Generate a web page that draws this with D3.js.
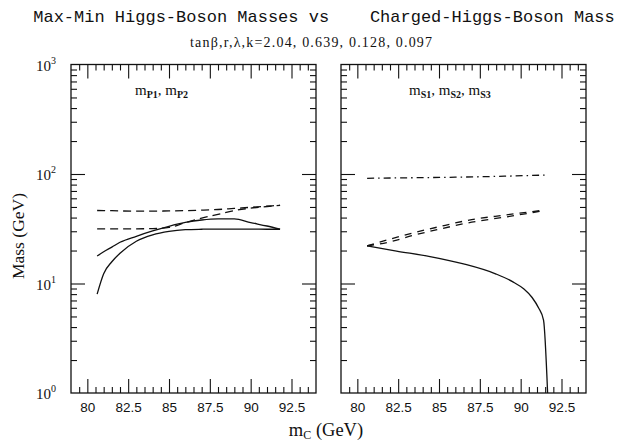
<!DOCTYPE html>
<html>
<head>
<meta charset="utf-8">
<script src="https://cdnjs.cloudflare.com/ajax/libs/d3/7.8.5/d3.min.js"></script>
<style>
  body { margin: 0; background: #fff; }
  svg { display: block; }
</style>
</head>
<body>
<svg id="chart"></svg>
<script>
// canvas
var svg = d3.select("#chart"),
    width = 621,
    height = 441;
svg.attr("width", width).attr("height", height);

// ---- data ----
// left panel: pseudoscalar masses
var mcLeft  = [80.6, 81, 81.5, 82, 83, 84, 85, 86, 87, 88, 89, 90, 91, 91.8];
var mP1Min  = [8.0, 12.3, 15.8, 18.9, 24.3, 27.8, 29.9, 31.0, 31.3, 31.4, 31.4, 31.4, 31.3, 31.3];
var mP1Max  = [17.8, 19.5, 21.5, 23.8, 27.0, 30.2, 33.3, 36.1, 38.0, 38.9, 38.9, 36.0, 33.5, 31.3];
var mP2Min  = [31.5, 31.5, 31.5, 31.5, 31.6, 31.7, 32.5, 36.0, 39.5, 42.8, 46.3, 48.8, 50.5, 51.8];
var mP2Max  = [46.4, 46.3, 46.2, 46.0, 45.8, 45.8, 46.0, 46.3, 46.8, 47.4, 48.5, 49.6, 50.8, 51.8];

// right panel: scalar masses
var mcS1 = [80.6, 82.4, 84.45, 86.5, 88.5, 89.5, 90.2, 90.7, 91.1, 91.4, 91.65];
var mS1  = [22.1, 19.8, 17.6, 15.1, 12.2, 10.4, 8.9, 7.45, 5.97, 4.64, 1.0];
var mcS2 = [80.6, 82, 83.5, 85, 87, 89, 91.3];
var mS2Max = [22.1, 25.4, 29.2, 33.0, 38.3, 42.1, 46.5];
var mS2Min = [22.1, 24.0, 27.7, 31.3, 36.3, 40.3, 46.0];
var mcS3 = [80.6, 83, 86, 89, 91.6];
var mS3  = [91.4, 92.3, 93.5, 95.5, 97.9];

// tick labels
var xTickValues = [80, 82.5, 85, 87.5, 90, 92.5];
var yTickValues = [1, 10, 100, 1000];

// ---- layout ----
var panelW = 245, panelH = 328.5, panelTop = 64.5;
var panelLefts = [71, 341];

var x = d3.scaleLinear().domain([79, 94]).range([0, panelW]);
var y = d3.scaleLog().domain([1, 1000]).range([panelH, 0]);

var line = d3.line()
    .x(function(d) { return x(d[0]); })
    .y(function(d) { return y(d[1]); })
    .curve(d3.curveMonotoneX);

function zip(xs, ys) { return xs.map(function(v, i) { return [v, ys[i]]; }); }

var dashed = "8,5", dashDot = "7,4,1.5,4";

var panels = [
  { label: [["m", "P1"], ["m", "P2"]], labelX: 64,
    series: [
      { pts: zip(mcLeft, mP1Min), dash: null },
      { pts: zip(mcLeft, mP1Max), dash: null },
      { pts: zip(mcLeft, mP2Min), dash: dashed },
      { pts: zip(mcLeft, mP2Max), dash: dashed }
    ] },
  { label: [["m", "S1"], ["m", "S2"], ["m", "S3"]], labelX: 68,
    series: [
      { pts: zip(mcS1, mS1), dash: null },
      { pts: zip(mcS2, mS2Max), dash: "7,6" },
      { pts: zip(mcS2, mS2Min), dash: "7,6" },
      { pts: zip(mcS3, mS3), dash: dashDot }
    ] }
];

// minor ticks
var xMinor = d3.range(79.5, 94, 0.5).filter(function(v) { return Math.abs((v / 2.5) - Math.round(v / 2.5)) > 1e-6; });
var yMinor = [];
[1, 10, 100].forEach(function(dec) { for (var k = 2; k <= 9; k++) yMinor.push(dec * k); });

svg.append("defs").selectAll("clipPath")
  .data(panelLefts).enter()
  .append("clipPath").attr("id", function(d, i) { return "clip" + i; })
  .append("rect").attr("width", panelW).attr("height", panelH);

panels.forEach(function(p, i) {
  var g = svg.append("g").attr("transform", "translate(" + panelLefts[i] + "," + panelTop + ")");

  // curves
  var cg = g.append("g").attr("clip-path", "url(#clip" + i + ")");
  cg.selectAll("path")
    .data(p.series).enter()
    .append("path")
    .attr("d", function(d) { return line(d.pts); })
    .attr("fill", "none")
    .attr("stroke", "#111")
    .attr("stroke-width", 1.3)
    .attr("stroke-dasharray", function(d) { return d.dash; });

  // axes, ticks pointing inward on all four sides
  var bottomMajor = g.append("g").attr("transform", "translate(0," + panelH + ")")
    .call(d3.axisBottom(x).tickValues(xTickValues).tickSize(-14).tickSizeOuter(0).tickPadding(9)
      .tickFormat(function(d) { return d3.format("")(d); }));
  g.append("g").attr("transform", "translate(0," + panelH + ")")
    .call(d3.axisBottom(x).tickValues(xMinor).tickSize(-6).tickSizeOuter(0).tickFormat(""));
  g.append("g").call(d3.axisTop(x).tickValues(xTickValues).tickSize(-14).tickSizeOuter(0).tickFormat(""));
  g.append("g").call(d3.axisTop(x).tickValues(xMinor).tickSize(-6).tickSizeOuter(0).tickFormat(""));
  g.append("g").call(d3.axisLeft(y).tickValues([10, 100]).tickSize(-14).tickSizeOuter(0).tickFormat(""));
  g.append("g").call(d3.axisLeft(y).tickValues(yMinor).tickSize(-6).tickSizeOuter(0).tickFormat(""));
  g.append("g").attr("transform", "translate(" + panelW + ",0)")
    .call(d3.axisRight(y).tickValues([10, 100]).tickSize(-14).tickSizeOuter(0).tickFormat(""));
  g.append("g").attr("transform", "translate(" + panelW + ",0)")
    .call(d3.axisRight(y).tickValues(yMinor).tickSize(-6).tickSizeOuter(0).tickFormat(""));

  g.selectAll(".domain").remove();
  g.selectAll(".tick line").attr("stroke", "#111").attr("stroke-width", 1.1);
  bottomMajor.selectAll("text")
    .attr("font-family", "Liberation Sans, Arial, sans-serif")
    .attr("font-size", 13.5)
    .attr("fill", "#111");

  // frame
  g.append("rect")
    .attr("width", panelW).attr("height", panelH)
    .attr("fill", "none").attr("stroke", "#111").attr("stroke-width", 1.3);

  // panel label
  var t = g.append("text")
    .attr("x", p.labelX).attr("y", 30)
    .attr("font-family", "Liberation Serif, Times New Roman, serif")
    .attr("font-size", 15)
    .attr("fill", "#111");
  p.label.forEach(function(part, j) {
    t.append("tspan").text((j > 0 ? ", " : "") + part[0]).attr("dy", j > 0 ? -3 : 0);
    t.append("tspan").text(part[1]).attr("font-size", 10).attr("font-weight", "bold").attr("dy", 3);
  });
});

// y tick labels (left panel only)
svg.append("g").selectAll("text")
  .data(yTickValues).enter()
  .append("text")
  .attr("x", 56)
  .attr("y", function(d) { return panelTop + y(d) + 6; })
  .attr("text-anchor", "end")
  .attr("font-family", "Liberation Serif, Times New Roman, serif")
  .attr("font-size", 15)
  .attr("fill", "#111")
  .each(function(d) {
    var s = d3.select(this);
    s.append("tspan").text("10");
    s.append("tspan").text(String(Math.round(Math.log10(d)))).attr("font-size", 10).attr("dy", -7);
  });

// titles
svg.append("text")
  .attr("x", 324).attr("y", 22)
  .attr("text-anchor", "middle")
  .attr("font-family", "Liberation Mono, Courier New, monospace")
  .attr("font-size", 17)
  .attr("fill", "#111")
  .style("white-space", "pre")
  .text("Max-Min Higgs-Boson Masses vs    Charged-Higgs-Boson Mass");

svg.append("text")
  .attr("x", 190).attr("y", 47)
  .attr("font-family", "Liberation Serif, Times New Roman, serif")
  .attr("font-size", 14)
  .attr("textLength", 242)
  .attr("lengthAdjust", "spacing")
  .attr("fill", "#111")
  .text("tan\u03B2,r,\u03BB,k=2.04, 0.639, 0.128, 0.097");

var xt = svg.append("text")
  .attr("x", 326).attr("y", 436)
  .attr("text-anchor", "middle")
  .attr("font-family", "Liberation Serif, Times New Roman, serif")
  .attr("font-size", 18.5)
  .attr("fill", "#111");
xt.append("tspan").text("m");
xt.append("tspan").text("C").attr("font-size", 12).attr("dy", 3);
xt.append("tspan").text(" (GeV)").attr("dy", -3);

svg.append("text")
  .attr("transform", "translate(24,236) rotate(-90)")
  .attr("text-anchor", "middle")
  .attr("font-family", "Liberation Serif, Times New Roman, serif")
  .attr("font-size", 17.5)
  .attr("fill", "#111")
  .text("Mass (GeV)");
</script>
</body>
</html>
